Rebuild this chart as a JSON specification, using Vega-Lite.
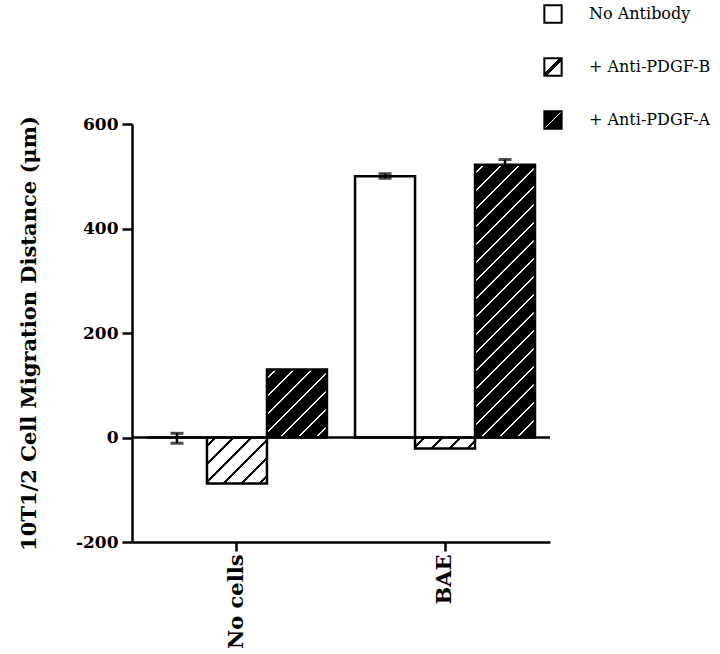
{
  "$schema": "https://vega.github.io/schema/vega-lite/v6.json",
  "width": 418,
  "height": 418,
  "autosize": "none",
  "padding": {"left": 132, "top": 124, "right": 170, "bottom": 112},
  "background": "white",
  "config": {
    "view": {"stroke": null},
    "font": "DejaVu Serif",
    "axis": {
      "domainColor": "black", "domainWidth": 2.5, "tickColor": "black", "tickWidth": 2.5,
      "labelColor": "black", "labelFont": "DejaVu Serif", "labelFontWeight": "bold",
      "titleFont": "DejaVu Serif", "titleFontWeight": "bold", "titleColor": "black", "grid": false
    },
    "axisX": {"labelAngle": -90, "labelFontSize": 21, "tickSize": 9, "labelPadding": 3},
    "axisY": {"labelFontSize": 17, "tickSize": 10, "labelPadding": 4, "titleFontSize": 21, "titlePadding": 36}
  },
  "data": {
    "values": [
      {"group": "No cells", "antibody": "No Antibody", "mean": 0, "lo": -11, "hi": 8},
      {"group": "No cells", "antibody": "+ Anti-PDGF-B", "mean": -88},
      {"group": "No cells", "antibody": "+ Anti-PDGF-A", "mean": 130},
      {"group": "BAE", "antibody": "No Antibody", "mean": 500, "lo": 496, "hi": 505},
      {"group": "BAE", "antibody": "+ Anti-PDGF-B", "mean": -21},
      {"group": "BAE", "antibody": "+ Anti-PDGF-A", "mean": 522, "lo": 512, "hi": 532}
    ]
  },
  "layer": [
    {
      "mark": {"type": "bar", "stroke": "black", "strokeWidth": 2.5},
      "encoding": {
        "x": {"field": "group", "type": "nominal", "sort": ["No cells", "BAE"], "scale": {"paddingInner": 0.135, "paddingOuter": 0.072}, "axis": {"title": null}},
        "xOffset": {"field": "antibody", "type": "nominal", "sort": ["No Antibody", "+ Anti-PDGF-B", "+ Anti-PDGF-A"], "scale": {"paddingInner": 0, "paddingOuter": 0}},
        "y": {"field": "mean", "type": "quantitative", "scale": {"domain": [-200, 600], "nice": false}, "axis": {"values": [-200, 0, 200, 400, 600], "labelExpr": "replace(datum.label, '−', '-')", "title": "10T1/2 Cell Migration Distance (μm)"}},
        "fill": {
          "condition": [
            {"test": "datum.group === 'No cells' && datum.antibody === '+ Anti-PDGF-B'", "value": {"gradient": "linear", "x1": 0, "y1": 0, "x2": 1.1127, "y2": 0.853, "stops": [
              {"offset": 0, "color": "white"},
              {"offset": 0.0708, "color": "white"}, {"offset": 0.0708, "color": "black"}, {"offset": 0.0991, "color": "black"}, {"offset": 0.0991, "color": "white"},
              {"offset": 0.2406, "color": "white"}, {"offset": 0.2406, "color": "black"}, {"offset": 0.2689, "color": "black"}, {"offset": 0.2689, "color": "white"},
              {"offset": 0.4104, "color": "white"}, {"offset": 0.4104, "color": "black"}, {"offset": 0.4387, "color": "black"}, {"offset": 0.4387, "color": "white"},
              {"offset": 0.5802, "color": "white"}, {"offset": 0.5802, "color": "black"}, {"offset": 0.6085, "color": "black"}, {"offset": 0.6085, "color": "white"},
              {"offset": 0.75, "color": "white"}, {"offset": 0.75, "color": "black"}, {"offset": 0.7783, "color": "black"}, {"offset": 0.7783, "color": "white"},
              {"offset": 0.9198, "color": "white"}, {"offset": 0.9198, "color": "black"}, {"offset": 0.9481, "color": "black"}, {"offset": 0.9481, "color": "white"},
              {"offset": 1, "color": "white"}]}},
            {"test": "datum.group === 'BAE' && datum.antibody === '+ Anti-PDGF-B'", "value": {"gradient": "linear", "x1": 0, "y1": 0, "x2": 1.1449, "y2": 0.2099, "stops": [
              {"offset": 0, "color": "white"},
              {"offset": 0.1056, "color": "white"}, {"offset": 0.1056, "color": "black"}, {"offset": 0.1479, "color": "black"}, {"offset": 0.1479, "color": "white"},
              {"offset": 0.3592, "color": "white"}, {"offset": 0.3592, "color": "black"}, {"offset": 0.4014, "color": "black"}, {"offset": 0.4014, "color": "white"},
              {"offset": 0.6127, "color": "white"}, {"offset": 0.6127, "color": "black"}, {"offset": 0.6549, "color": "black"}, {"offset": 0.6549, "color": "white"},
              {"offset": 0.8662, "color": "white"}, {"offset": 0.8662, "color": "black"}, {"offset": 0.9085, "color": "black"}, {"offset": 0.9085, "color": "white"},
              {"offset": 1, "color": "white"}]}},
            {"test": "datum.group === 'No cells' && datum.antibody === '+ Anti-PDGF-A'", "value": {"gradient": "linear", "x1": 0, "y1": 0, "x2": 0.9339, "y2": 1.0584, "stops": [
              {"offset": 0, "color": "black"},
              {"offset": 0.0609, "color": "black"}, {"offset": 0.0609, "color": "white"}, {"offset": 0.0797, "color": "white"}, {"offset": 0.0797, "color": "black"},
              {"offset": 0.2016, "color": "black"}, {"offset": 0.2016, "color": "white"}, {"offset": 0.2203, "color": "white"}, {"offset": 0.2203, "color": "black"},
              {"offset": 0.3422, "color": "black"}, {"offset": 0.3422, "color": "white"}, {"offset": 0.3609, "color": "white"}, {"offset": 0.3609, "color": "black"},
              {"offset": 0.4828, "color": "black"}, {"offset": 0.4828, "color": "white"}, {"offset": 0.5016, "color": "white"}, {"offset": 0.5016, "color": "black"},
              {"offset": 0.6234, "color": "black"}, {"offset": 0.6234, "color": "white"}, {"offset": 0.6422, "color": "white"}, {"offset": 0.6422, "color": "black"},
              {"offset": 0.7641, "color": "black"}, {"offset": 0.7641, "color": "white"}, {"offset": 0.7828, "color": "white"}, {"offset": 0.7828, "color": "black"},
              {"offset": 0.9047, "color": "black"}, {"offset": 0.9047, "color": "white"}, {"offset": 0.9234, "color": "white"}, {"offset": 0.9234, "color": "black"},
              {"offset": 1, "color": "black"}]}},
            {"test": "datum.group === 'BAE' && datum.antibody === '+ Anti-PDGF-A'", "value": {"gradient": "linear", "x1": 0, "y1": 0, "x2": 0.256, "y2": 1.1637, "stops": [
              {"offset": 0, "color": "black"},
              {"offset": 0.02344, "color": "black"}, {"offset": 0.02344, "color": "white"}, {"offset": 0.03065, "color": "white"}, {"offset": 0.03065, "color": "black"},
              {"offset": 0.07754, "color": "black"}, {"offset": 0.07754, "color": "white"}, {"offset": 0.08475, "color": "white"}, {"offset": 0.08475, "color": "black"},
              {"offset": 0.13163, "color": "black"}, {"offset": 0.13163, "color": "white"}, {"offset": 0.13884, "color": "white"}, {"offset": 0.13884, "color": "black"},
              {"offset": 0.18572, "color": "black"}, {"offset": 0.18572, "color": "white"}, {"offset": 0.19294, "color": "white"}, {"offset": 0.19294, "color": "black"},
              {"offset": 0.23982, "color": "black"}, {"offset": 0.23982, "color": "white"}, {"offset": 0.24703, "color": "white"}, {"offset": 0.24703, "color": "black"},
              {"offset": 0.29391, "color": "black"}, {"offset": 0.29391, "color": "white"}, {"offset": 0.30113, "color": "white"}, {"offset": 0.30113, "color": "black"},
              {"offset": 0.34801, "color": "black"}, {"offset": 0.34801, "color": "white"}, {"offset": 0.35522, "color": "white"}, {"offset": 0.35522, "color": "black"},
              {"offset": 0.4021, "color": "black"}, {"offset": 0.4021, "color": "white"}, {"offset": 0.40932, "color": "white"}, {"offset": 0.40932, "color": "black"},
              {"offset": 0.4562, "color": "black"}, {"offset": 0.4562, "color": "white"}, {"offset": 0.46341, "color": "white"}, {"offset": 0.46341, "color": "black"},
              {"offset": 0.51029, "color": "black"}, {"offset": 0.51029, "color": "white"}, {"offset": 0.51751, "color": "white"}, {"offset": 0.51751, "color": "black"},
              {"offset": 0.56439, "color": "black"}, {"offset": 0.56439, "color": "white"}, {"offset": 0.5716, "color": "white"}, {"offset": 0.5716, "color": "black"},
              {"offset": 0.61848, "color": "black"}, {"offset": 0.61848, "color": "white"}, {"offset": 0.6257, "color": "white"}, {"offset": 0.6257, "color": "black"},
              {"offset": 0.67258, "color": "black"}, {"offset": 0.67258, "color": "white"}, {"offset": 0.67979, "color": "white"}, {"offset": 0.67979, "color": "black"},
              {"offset": 0.72667, "color": "black"}, {"offset": 0.72667, "color": "white"}, {"offset": 0.73388, "color": "white"}, {"offset": 0.73388, "color": "black"},
              {"offset": 0.78077, "color": "black"}, {"offset": 0.78077, "color": "white"}, {"offset": 0.78798, "color": "white"}, {"offset": 0.78798, "color": "black"},
              {"offset": 0.83486, "color": "black"}, {"offset": 0.83486, "color": "white"}, {"offset": 0.84207, "color": "white"}, {"offset": 0.84207, "color": "black"},
              {"offset": 0.88896, "color": "black"}, {"offset": 0.88896, "color": "white"}, {"offset": 0.89617, "color": "white"}, {"offset": 0.89617, "color": "black"},
              {"offset": 0.94305, "color": "black"}, {"offset": 0.94305, "color": "white"}, {"offset": 0.95026, "color": "white"}, {"offset": 0.95026, "color": "black"},
              {"offset": 1, "color": "black"}]}}
          ],
          "value": "white"
        }
      }
    },
    {
      "mark": {"type": "square", "opacity": 0, "size": 0},
      "encoding": {
        "x": {"field": "group", "type": "nominal", "sort": ["No cells", "BAE"], "axis": {"title": null}},
        "xOffset": {"field": "antibody", "type": "nominal", "sort": ["No Antibody", "+ Anti-PDGF-B", "+ Anti-PDGF-A"]},
        "y": {"field": "mean", "type": "quantitative", "scale": {"domain": [-200, 600], "nice": false}, "axis": {"values": [-200, 0, 200, 400, 600], "labelExpr": "replace(datum.label, '−', '-')", "title": "10T1/2 Cell Migration Distance (μm)"}},
        "fill": {
          "field": "antibody", "type": "nominal",
          "scale": {
            "domain": ["No Antibody", "+ Anti-PDGF-B", "+ Anti-PDGF-A"],
            "range": [
              "white",
              {"expr": "{gradient: 'linear', x1: 0, y1: 0, x2: 1, y2: 1, stops: [{offset: 0, color: 'white'}, {offset: 0.43, color: 'white'}, {offset: 0.43, color: 'black'}, {offset: 0.57, color: 'black'}, {offset: 0.57, color: 'white'}, {offset: 1, color: 'white'}]}"},
              {"expr": "{gradient: 'linear', x1: 0, y1: 0, x2: 1, y2: 1, stops: [{offset: 0, color: 'black'}, {offset: 0.475, color: 'black'}, {offset: 0.475, color: 'white'}, {offset: 0.525, color: 'white'}, {offset: 0.525, color: 'black'}, {offset: 1, color: 'black'}]}"}
            ]
          },
          "legend": {
            "title": null, "orient": "none", "legendX": 411, "legendY": -120,
            "symbolType": "square", "symbolSize": 300, "symbolStrokeWidth": 2, "symbolStrokeColor": "black",
            "labelFont": "DejaVu Serif", "labelFontSize": 16, "labelColor": "black", "labelOffset": 26,
            "rowPadding": 27, "padding": 0, "symbolOpacity": 1
          }
        }
      }
    },
    {
      "data": {"values": [{}]},
      "mark": {"type": "rule", "color": "black", "strokeWidth": 2.5},
      "encoding": {"y": {"datum": 0, "type": "quantitative", "scale": {"domain": [-200, 600], "nice": false}, "axis": {"values": [-200, 0, 200, 400, 600], "labelExpr": "replace(datum.label, '−', '-')", "title": "10T1/2 Cell Migration Distance (μm)"}}}
    },
    {
      "transform": [{"filter": "isValid(datum.lo)"}],
      "mark": {"type": "rule", "color": "black", "strokeWidth": 2.5},
      "encoding": {
        "x": {"field": "group", "type": "nominal", "sort": ["No cells", "BAE"], "axis": {"title": null}},
        "xOffset": {"field": "antibody", "type": "nominal", "sort": ["No Antibody", "+ Anti-PDGF-B", "+ Anti-PDGF-A"]},
        "y": {"field": "lo", "type": "quantitative", "scale": {"domain": [-200, 600], "nice": false}, "axis": {"values": [-200, 0, 200, 400, 600], "labelExpr": "replace(datum.label, '−', '-')", "title": "10T1/2 Cell Migration Distance (μm)"}},
        "y2": {"field": "hi"}
      }
    },
    {
      "transform": [{"filter": "isValid(datum.lo)"}],
      "mark": {"type": "tick", "color": "black", "thickness": 3, "size": 13, "orient": "horizontal"},
      "encoding": {
        "x": {"field": "group", "type": "nominal", "sort": ["No cells", "BAE"], "axis": {"title": null}},
        "xOffset": {"field": "antibody", "type": "nominal", "sort": ["No Antibody", "+ Anti-PDGF-B", "+ Anti-PDGF-A"]},
        "y": {"field": "lo", "type": "quantitative", "scale": {"domain": [-200, 600], "nice": false}, "axis": {"values": [-200, 0, 200, 400, 600], "labelExpr": "replace(datum.label, '−', '-')", "title": "10T1/2 Cell Migration Distance (μm)"}}
      }
    },
    {
      "transform": [{"filter": "isValid(datum.hi)"}],
      "mark": {"type": "tick", "color": "black", "thickness": 3, "size": 13, "orient": "horizontal"},
      "encoding": {
        "x": {"field": "group", "type": "nominal", "sort": ["No cells", "BAE"], "axis": {"title": null}},
        "xOffset": {"field": "antibody", "type": "nominal", "sort": ["No Antibody", "+ Anti-PDGF-B", "+ Anti-PDGF-A"]},
        "y": {"field": "hi", "type": "quantitative", "scale": {"domain": [-200, 600], "nice": false}, "axis": {"values": [-200, 0, 200, 400, 600], "labelExpr": "replace(datum.label, '−', '-')", "title": "10T1/2 Cell Migration Distance (μm)"}}
      }
    }
  ]
}
